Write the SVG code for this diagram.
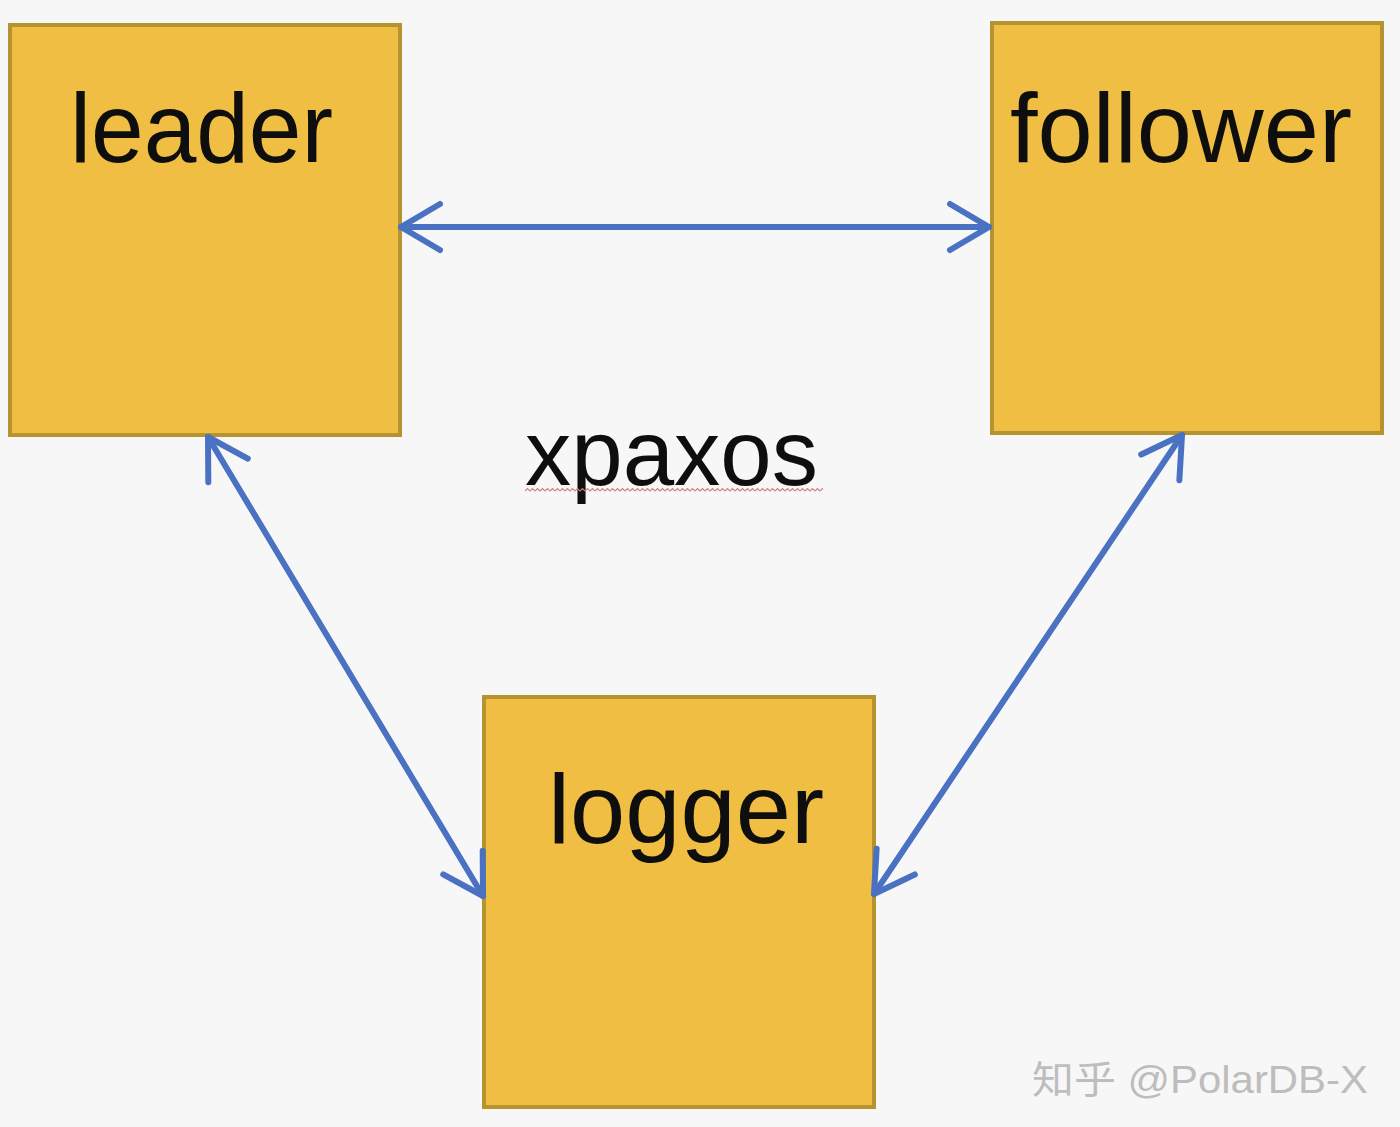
<svg xmlns="http://www.w3.org/2000/svg" width="1400" height="1127" viewBox="0 0 1400 1127">
  <defs>
    <style>
      .box { fill: #EFBE43; stroke: #B5932F; stroke-width: 4; }
      .lbl { font-family: "Liberation Sans", Arial, sans-serif; fill: #0E0E0E; }
      .conn { stroke: #4A71C2; stroke-width: 6; fill: none; stroke-linecap: round; }
      .wm { font-family: "Liberation Sans", "Noto Sans CJK SC", sans-serif; font-size: 38px; fill: #BDBDBD; }
    </style>
    <marker id="arr" markerUnits="userSpaceOnUse" markerWidth="100" markerHeight="100" orient="auto-start-reverse" refX="0" refY="0" viewBox="-60 -50 100 100" overflow="visible">
      <path d="M-39,-23 L0,0 L-39,23" fill="none" stroke="#4A71C2" stroke-width="6" stroke-linecap="round" stroke-linejoin="round"/>
    </marker>
    <pattern id="squig" x="525" y="487" width="5" height="5" patternUnits="userSpaceOnUse">
      <path d="M0,4 L2.5,1.5 L5,4" fill="none" stroke="#D47A7A" stroke-width="1.1"/>
    </pattern>
  </defs>
  <rect x="0" y="0" width="1400" height="1127" fill="#F7F7F7"/>

  <g id="leader">
    <rect class="box" x="10" y="25" width="390" height="410"/>
    <text class="lbl" x="70" y="162" font-size="98" textLength="263" lengthAdjust="spacingAndGlyphs">leader</text>
  </g>
  <g id="follower">
    <rect class="box" x="992" y="23" width="390" height="410"/>
    <text class="lbl" x="1010" y="162" font-size="98" textLength="342" lengthAdjust="spacingAndGlyphs">follower</text>
  </g>
  <g id="logger">
    <rect class="box" x="484" y="697" width="390" height="410"/>
    <text class="lbl" x="548" y="843" font-size="98" textLength="276" lengthAdjust="spacingAndGlyphs">logger</text>
  </g>
  <g id="xpaxos">
    <text class="lbl" x="525" y="485" font-size="92" textLength="293" lengthAdjust="spacingAndGlyphs">xpaxos</text>
    <rect x="525" y="487" width="298" height="5" fill="url(#squig)"/>
  </g>

  <g id="connectors">
    <line class="conn" x1="401" y1="227" x2="989" y2="227" marker-start="url(#arr)" marker-end="url(#arr)"/>
    <line class="conn" x1="208" y1="437" x2="483" y2="896" marker-start="url(#arr)" marker-end="url(#arr)"/>
    <line class="conn" x1="1182" y1="435" x2="874" y2="894" marker-start="url(#arr)" marker-end="url(#arr)"/>
  </g>

  <text class="wm" x="1032" y="1093" textLength="336" lengthAdjust="spacingAndGlyphs">知乎 @PolarDB-X</text>
</svg>
